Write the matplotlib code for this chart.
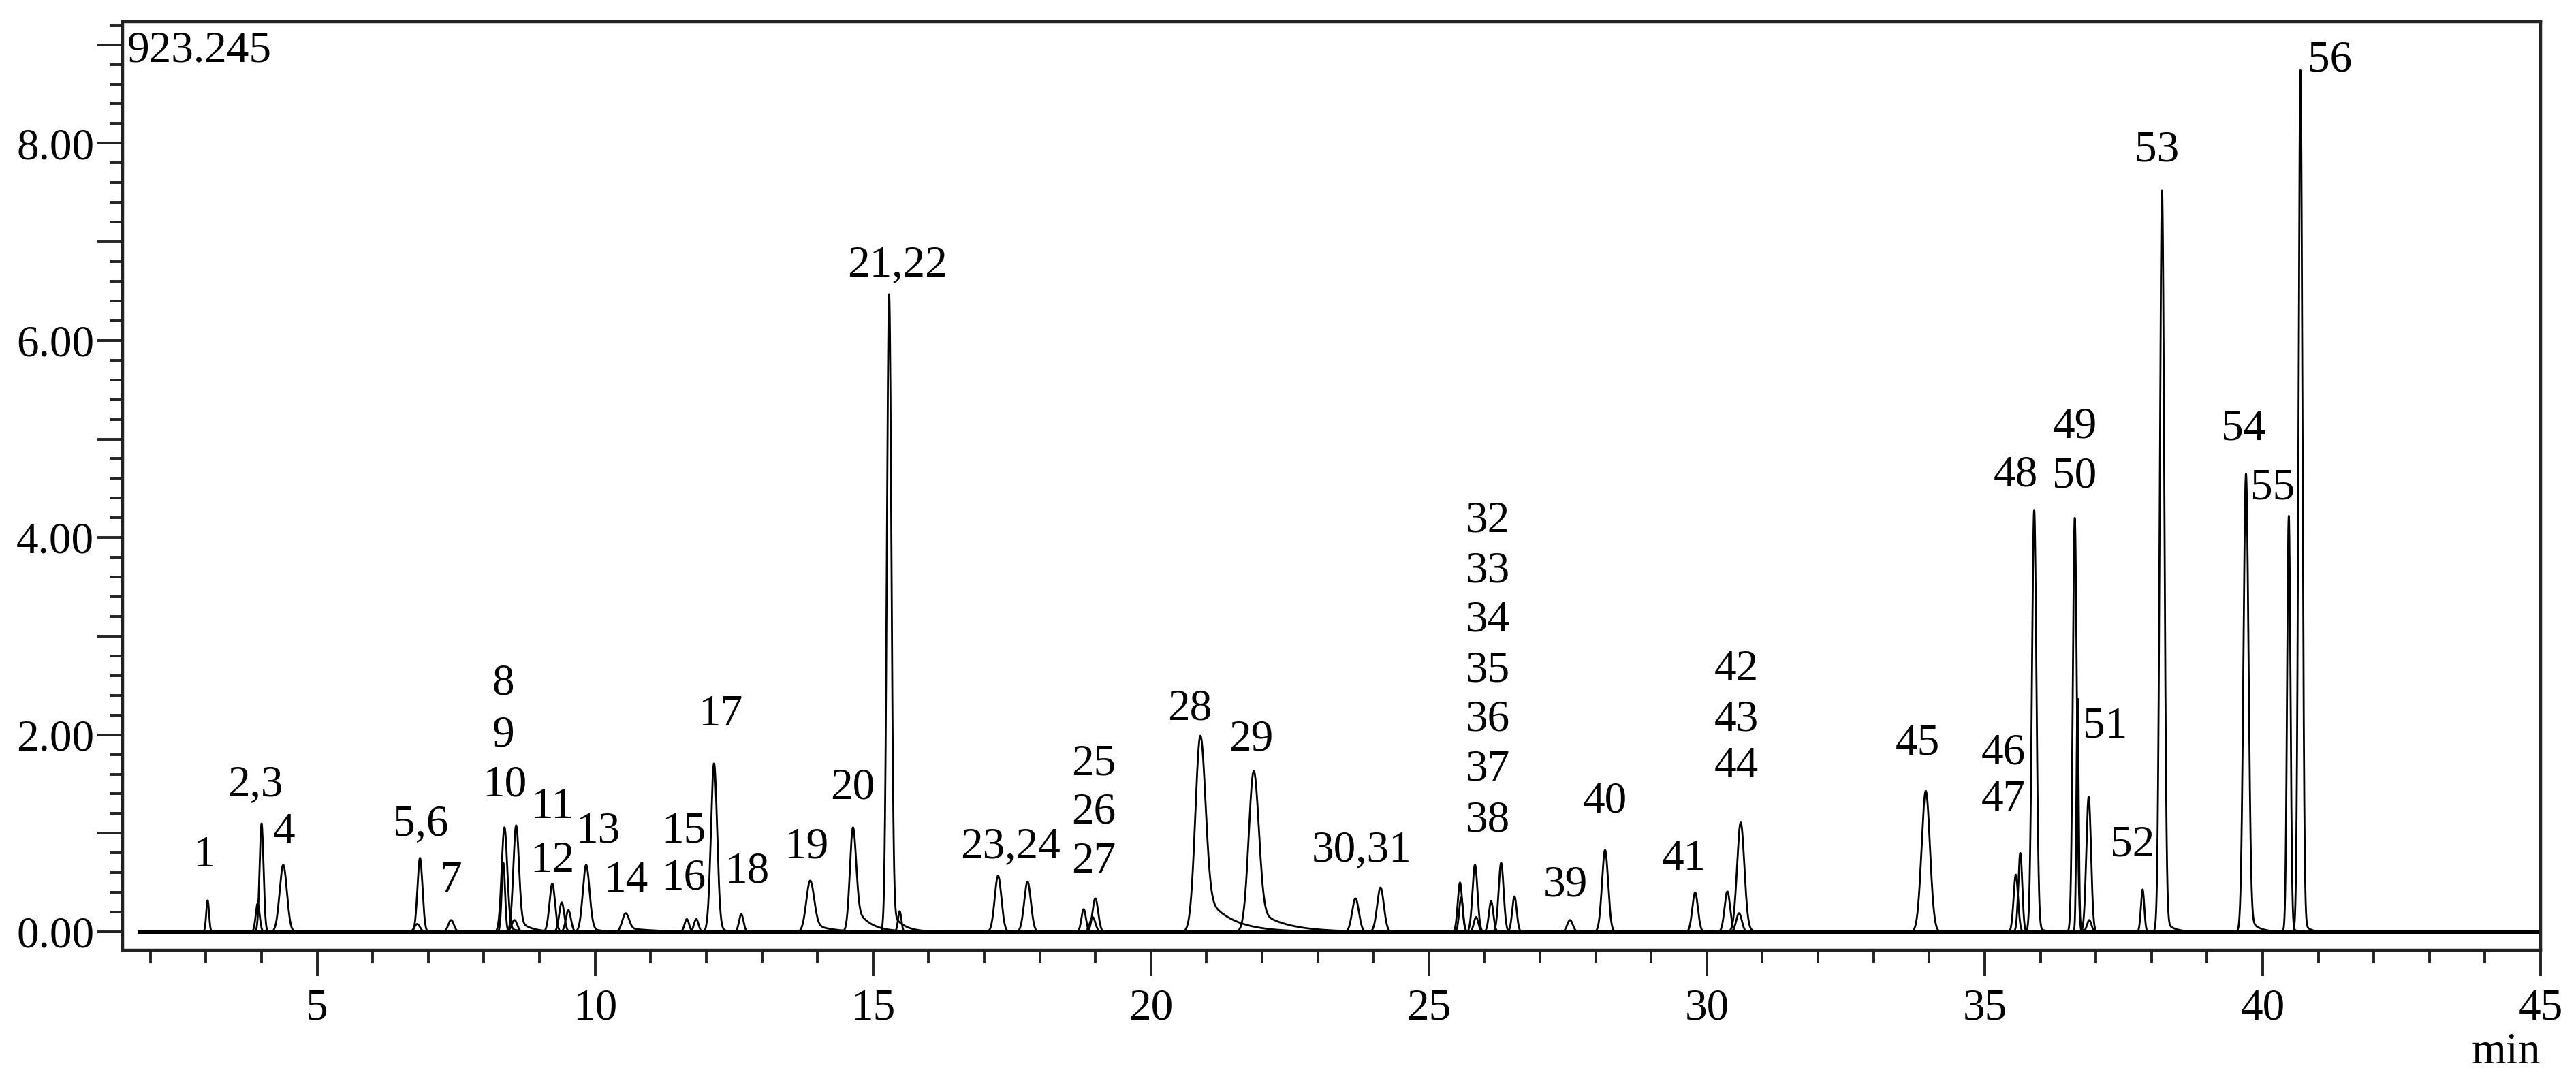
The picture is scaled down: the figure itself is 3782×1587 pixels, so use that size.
import numpy as np
import matplotlib
matplotlib.use("Agg")
import matplotlib.pyplot as plt
from matplotlib.ticker import FixedLocator, MultipleLocator, FuncFormatter

plt.rcParams['font.family'] = ['Liberation Serif', 'DejaVu Serif']

# ---- peak table (retention time in min, height, width, tailing) ----
peak_time = [3.03, 4.00, 3.93, 4.39, 6.85, 6.80, 7.41, 8.37, 8.35, 8.58, 8.55,
             9.23, 9.40, 9.52, 9.84, 10.55, 11.65, 11.82, 12.14, 12.63, 13.87,
             14.64, 15.29, 15.48, 17.25, 17.78, 18.79, 19.00, 18.95, 20.89, 21.85,
             23.68, 24.13, 25.56, 25.58, 25.83, 25.85, 26.12, 26.30, 26.54,
             27.54, 28.17, 29.79, 30.37, 30.58, 30.61, 33.94, 35.56, 35.64,
             35.89, 36.62, 36.67, 36.87, 36.88, 37.84, 38.19, 39.70, 40.47, 40.68]
peak_height = [0.32, 1.10, 0.29, 0.68, 0.75, 0.08, 0.12, 1.06, 0.70, 1.08, 0.12,
               0.49, 0.30, 0.22, 0.68, 0.19, 0.13, 0.13, 1.71, 0.18, 0.52,
               1.06, 6.47, 0.21, 0.57, 0.51, 0.23, 0.34, 0.15, 1.99, 1.63,
               0.34, 0.45, 0.50, 0.35, 0.68, 0.15, 0.31, 0.70, 0.36,
               0.12, 0.83, 0.40, 0.41, 0.19, 1.11, 1.43, 0.58, 0.80,
               4.28, 4.20, 2.37, 1.37, 0.12, 0.43, 7.52, 4.65, 4.22, 8.74]
peak_sigma = [0.025, 0.035, 0.035, 0.065, 0.045, 0.05, 0.05, 0.05, 0.03, 0.05, 0.05,
              0.05, 0.045, 0.045, 0.06, 0.06, 0.04, 0.04, 0.055, 0.04, 0.07,
              0.055, 0.04, 0.03, 0.06, 0.06, 0.04, 0.05, 0.05, 0.09, 0.09,
              0.06, 0.06, 0.04, 0.035, 0.045, 0.04, 0.04, 0.045, 0.04,
              0.05, 0.055, 0.05, 0.05, 0.05, 0.065, 0.075, 0.04, 0.035,
              0.04, 0.035, 0.02, 0.042, 0.04, 0.03, 0.04, 0.045, 0.03, 0.035]
peak_tail_h = [0, 0, 0, 0, 0, 0, 0, 0.05, 0, 0.15, 0,
               0, 0, 0, 0.05, 0.04, 0, 0, 0.05, 0, 0.10,
               0.30, 0.25, 0, 0, 0, 0, 0, 0, 0.45, 0.25,
               0, 0, 0, 0, 0, 0, 0, 0, 0,
               0, 0, 0, 0, 0, 0.03, 0, 0, 0,
               0.05, 0.05, 0, 0, 0, 0, 0.15, 0.20, 0.05, 0.15]
peak_tail_tau = [0.2, 0.2, 0.2, 0.2, 0.2, 0.2, 0.2, 0.2, 0.2, 0.2, 0.2,
                 0.2, 0.2, 0.2, 0.2, 0.5, 0.2, 0.2, 0.15, 0.2, 0.3,
                 0.25, 0.2, 0.2, 0.2, 0.2, 0.2, 0.2, 0.2, 0.45, 0.5,
                 0.2, 0.2, 0.2, 0.2, 0.2, 0.2, 0.2, 0.2, 0.2,
                 0.2, 0.2, 0.2, 0.2, 0.2, 0.2, 0.2, 0.2, 0.2,
                 0.15, 0.15, 0.2, 0.2, 0.2, 0.2, 0.15, 0.15, 0.1, 0.1]

# ---- peak labels (text, x in min, y in signal units) ----
label_text = ["1", "2,3", "4", "5,6", "7", "8", "9", "10", "11", "12", "13", "14",
              "15", "16", "17", "18", "19", "20", "21,22", "23,24", "25", "26", "27",
              "28", "29", "30,31", "32", "33", "34", "35", "36", "37", "38", "39",
              "40", "41", "42", "43", "44", "45", "46", "47", "48", "49", "50",
              "51", "52", "53", "54", "55", "56"]
label_x = [2.97, 3.89, 4.40, 6.87, 7.41, 8.35, 8.35, 8.37, 9.23, 9.23, 10.05, 10.55,
           11.60, 11.60, 12.26, 12.74, 13.80, 14.63, 15.44, 17.47, 18.97, 18.97, 18.97,
           20.70, 21.80, 23.79, 26.06, 26.06, 26.06, 26.06, 26.06, 26.06, 26.06, 27.46,
           28.17, 29.59, 30.53, 30.53, 30.53, 33.79, 35.34, 35.34, 35.56, 36.62, 36.62,
           37.16, 37.66, 38.10, 39.65, 40.18, 41.21]
label_y = [0.77, 1.49, 1.01, 1.09, 0.52, 2.52, 1.99, 1.49, 1.26, 0.72, 1.02, 0.52,
           1.02, 0.54, 2.20, 0.61, 0.86, 1.46, 6.76, 0.86, 1.70, 1.21, 0.71,
           2.26, 1.95, 0.83, 4.17, 3.66, 3.16, 2.65, 2.15, 1.65, 1.13, 0.47,
           1.32, 0.74, 2.66, 2.15, 1.68, 1.91, 1.81, 1.34, 4.63, 5.12, 4.62,
           2.08, 0.88, 7.93, 5.10, 4.50, 8.84]

x_major_ticks = [5, 10, 15, 20, 25, 30, 35, 40, 45]
y_major_ticks = [0, 1, 2, 3, 4, 5, 6, 7, 8, 9]
x_range = (1.5, 45.0)
y_range = (-0.186, 9.23245)
scale_label = "923.245"
x_unit = "min"

FS = 47

# ---- figure ----
W, H = 3782, 1587
fig = plt.figure(figsize=(W / 100, H / 100), dpi=100)
ax = fig.add_axes([180 / W, 1 - 1395 / H, (3730 - 180) / W, (1395 - 32) / H])

t = np.linspace(1.8, 45.0, 40000)
for t0, h, s, th, tau in zip(peak_time, peak_height, peak_sigma, peak_tail_h, peak_tail_tau):
    g = h * np.exp(-0.5 * ((t - t0) / s) ** 2)
    d = np.clip(t - t0, 0, None)
    tail = th * np.exp(-d / tau) * (1 - np.exp(-(d / (1.5 * s)) ** 2))
    y = g + tail
    ax.plot(t, y, color='black', lw=2.0, solid_joinstyle='round')

ax.plot([t[0], t[-1]], [0, 0], color='black', lw=3.6)

for txt, lx, ly in zip(label_text, label_x, label_y):
    ax.text(lx, ly, txt, ha='center', va='center', fontsize=FS)

ax.set_xlim(*x_range)
ax.set_ylim(*y_range)

ax.xaxis.set_major_locator(FixedLocator(x_major_ticks))
ax.xaxis.set_minor_locator(MultipleLocator(1))
ax.yaxis.set_major_locator(FixedLocator(y_major_ticks))
ax.yaxis.set_minor_locator(MultipleLocator(0.2))
ax.yaxis.set_major_formatter(FuncFormatter(lambda v, p: f"{v:.2f}" if int(round(v)) % 2 == 0 and v < 8.5 else ""))
ax.xaxis.set_major_formatter(FuncFormatter(lambda v, p: f"{int(v)}"))

ax.tick_params(axis='both', which='major', direction='out', length=27, width=2.8,
               colors='#222222', labelcolor='black', labelsize=FS)
ax.tick_params(axis='both', which='minor', direction='out', length=14, width=2.8, colors='#222222')
ax.tick_params(axis='x', which='major', pad=13)
ax.tick_params(axis='y', which='major', pad=3)

for sp in ax.spines.values():
    sp.set_linewidth(3.2)
    sp.set_color('#222222')

ax.text(0.002, 0.969, scale_label, transform=ax.transAxes, ha='left', va='center', fontsize=FS)
ax.text(1.0, -0.11, x_unit, transform=ax.transAxes, ha='right', va='center', fontsize=FS)

fig.savefig("out.png", dpi=100)
